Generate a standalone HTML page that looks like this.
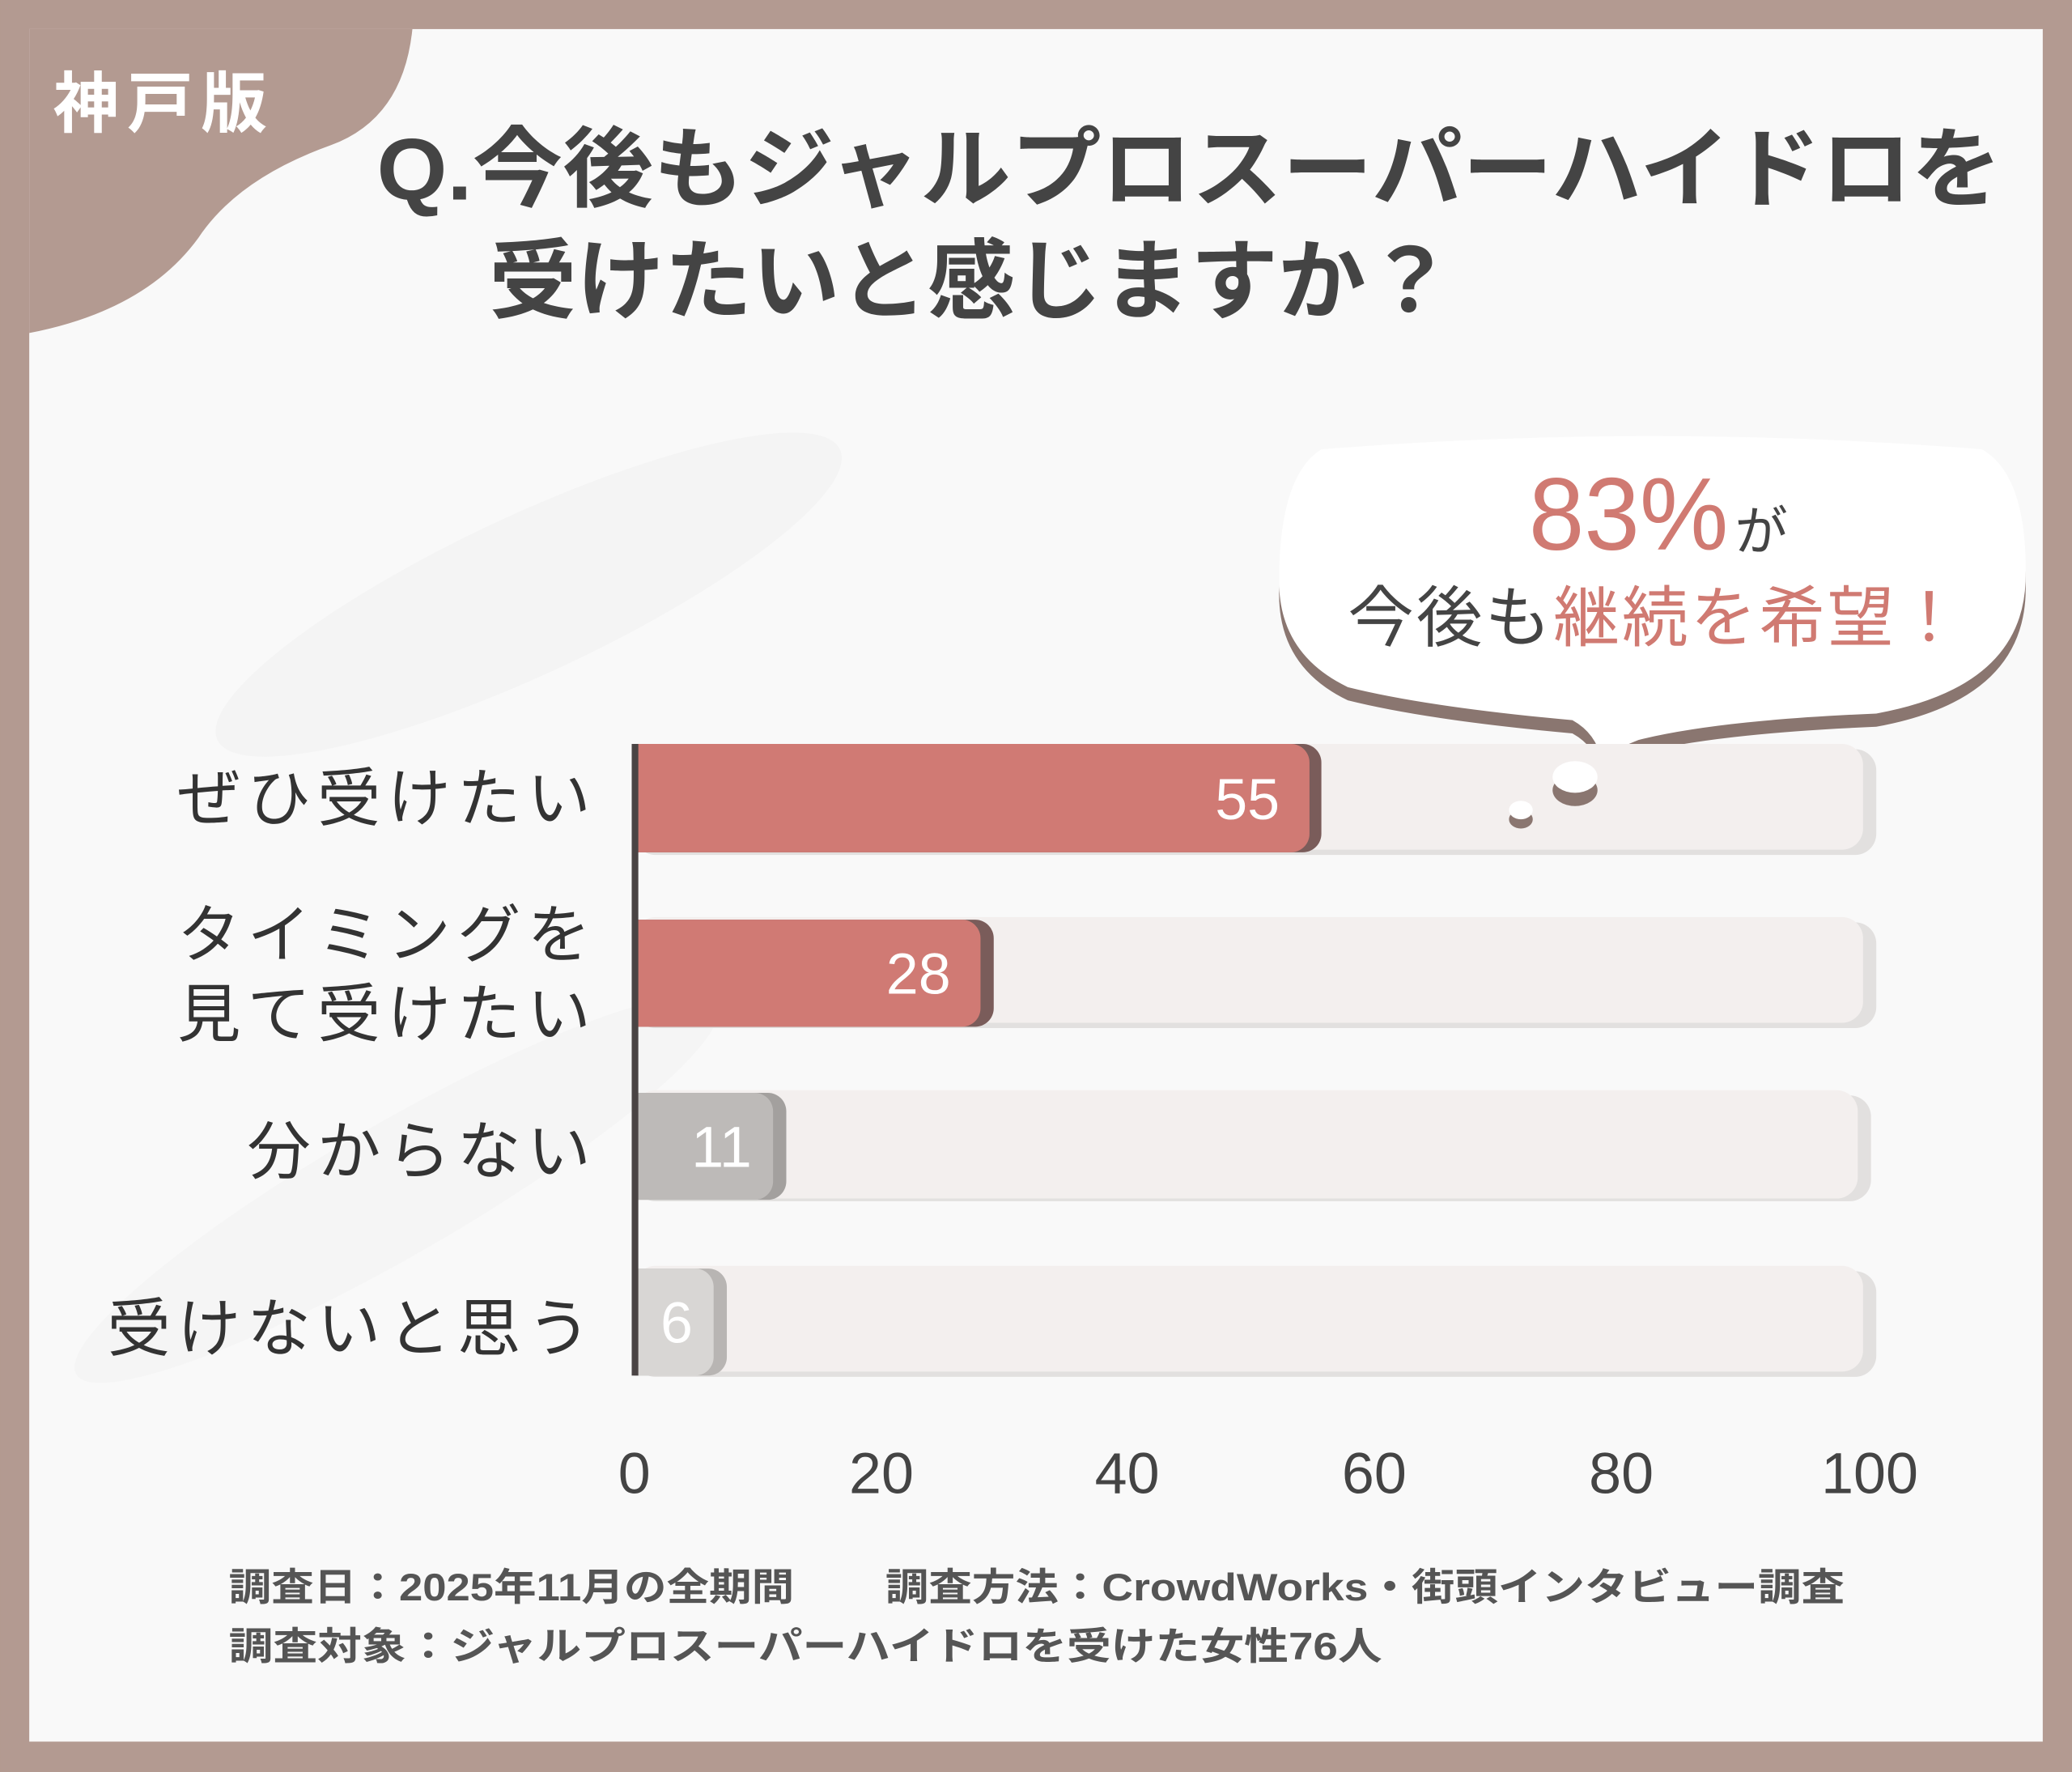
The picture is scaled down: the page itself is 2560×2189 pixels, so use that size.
<!DOCTYPE html>
<html><head><meta charset="utf-8"><style>
html,body{margin:0;padding:0;background:#b39a91;}
svg{display:block;}
text{font-family:"Liberation Sans","Noto Sans CJK JP",sans-serif;}
</style></head><body>
<svg width="2560" height="2189" viewBox="0 0 1568 1341" xmlns="http://www.w3.org/2000/svg">
<rect x="0" y="0" width="1568" height="1341" fill="#b39a91"/>
<rect x="22" y="22" width="1524" height="1296" fill="#f9f9f9"/>
<ellipse cx="400" cy="450" rx="260" ry="60" fill="#f4f4f4" transform="rotate(-25 400 450)"/>
<ellipse cx="300" cy="900" rx="280" ry="50" fill="#f5f5f5" transform="rotate(-30 300 900)"/>
<!-- corner blob -->
<path d="M22 22 L312 22 Q305 90 250 110 Q180 135 150 180 Q110 235 22 252 Z" fill="#b39a91"/>
<text x="40" y="96" font-size="50" font-weight="bold" fill="#fff" letter-spacing="6">神戸版</text>
<!-- title -->
<text x="285" y="151" font-size="66" font-weight="bold" fill="#444" textLength="1230" lengthAdjust="spacingAndGlyphs">Q.今後もジャルプロスーパーハイドロを</text>
<text x="370" y="236" font-size="66" font-weight="bold" fill="#444" textLength="730" lengthAdjust="spacingAndGlyphs">受けたいと感じますか？</text>
<!-- bubble -->
<g transform="translate(0,10)"><path d="M1000 340 Q1250 320 1500 340 Q1535 360 1533 440 Q1530 520 1420 540 Q1300 545 1240 560 Q1215 570 1212 575 Q1208 555 1190 545 Q1080 535 1020 520 Q968 495 968 440 Q968 360 1000 340 Z" fill="#8a7670"/></g>
<path d="M1000 340 Q1250 320 1500 340 Q1535 360 1533 440 Q1530 520 1420 540 Q1300 545 1240 560 Q1215 570 1212 575 Q1208 555 1190 545 Q1080 535 1020 520 Q968 495 968 440 Q968 360 1000 340 Z" fill="#fff"/>
<text x="1157" y="416" font-size="78" fill="#d07a72" textLength="151" lengthAdjust="spacingAndGlyphs">83%</text>
<text x="1313" y="416" font-size="40" fill="#444">が</text>
<text x="1020" y="485" font-size="50" fill="#444" textLength="465" lengthAdjust="spacing">今後も<tspan fill="#d07a72">継続を希望！</tspan></text>
<!-- tracks -->
<g fill="#e2e0df">
<rect x="480" y="567" width="940" height="80" rx="16"/>
<rect x="480" y="698" width="940" height="80" rx="16"/>
<rect x="480" y="829" width="936" height="80" rx="16"/>
<rect x="480" y="962" width="940" height="80" rx="16"/>
</g>
<g fill="#f3efee">
<rect x="480" y="563" width="930" height="80" rx="16"/>
<rect x="480" y="694" width="930" height="80" rx="16"/>
<rect x="480" y="825" width="926" height="82" rx="16"/>
<rect x="480" y="958" width="930" height="80" rx="16"/>
</g>
<!-- small bubbles -->
<ellipse cx="1192" cy="598" rx="17" ry="12" fill="#8a7670"/>
<ellipse cx="1192" cy="588" rx="17" ry="12" fill="#fff"/>
<ellipse cx="1151" cy="620" rx="9" ry="7" fill="#8a7670"/>
<ellipse cx="1151" cy="613" rx="9" ry="7" fill="#fff"/>
<!-- bars -->
<clipPath id="c"><rect x="480" y="0" width="1200" height="1341"/></clipPath>
<g clip-path="url(#c)">
<rect x="460" y="563" width="540" height="82" rx="14" fill="#7a5c5a"/>
<rect x="460" y="563" width="531" height="82" rx="14" fill="#d07a74"/>
<rect x="460" y="696" width="292" height="81" rx="14" fill="#7a5c5a"/>
<rect x="460" y="696" width="282" height="81" rx="14" fill="#d07a74"/>
<rect x="460" y="827" width="135" height="81" rx="14" fill="#a3a09e"/>
<rect x="460" y="827" width="125" height="81" rx="14" fill="#bdbab8"/>
<rect x="460" y="960" width="90" height="81" rx="14" fill="#b8b5b3"/>
<rect x="460" y="960" width="80" height="81" rx="14" fill="#d8d6d4"/>
</g>
<rect x="478" y="563" width="5" height="478" fill="#4a4444"/>
<g fill="#fff" font-size="44" text-anchor="middle">
<text x="944" y="620">55</text>
<text x="695" y="752">28</text>
<text x="546" y="883">11</text>
<text x="512" y="1016">6</text>
</g>
<!-- category labels -->
<g fill="#333" font-size="48" text-anchor="end" letter-spacing="5">
<text x="452" y="621">ぜひ受けたい</text>
<text x="452" y="724">タイミングを</text>
<text x="452" y="784">見て受けたい</text>
<text x="452" y="888">分からない</text>
<text x="452" y="1022">受けないと思う</text>
</g>
<!-- ticks -->
<g fill="#444" font-size="44" text-anchor="middle">
<text x="480" y="1130">0</text>
<text x="667" y="1130">20</text>
<text x="853" y="1130">40</text>
<text x="1040" y="1130">60</text>
<text x="1227" y="1130">80</text>
<text x="1415" y="1130">100</text>
</g>
<!-- footer -->
<g fill="#555" font-size="29" font-weight="bold">
<text x="173" y="1211" textLength="428" lengthAdjust="spacingAndGlyphs">調査日：2025年11月の全期間</text>
<text x="670" y="1211" textLength="726" lengthAdjust="spacingAndGlyphs">調査方法：CrowdWorks・街頭インタビュー調査</text>
<text x="173" y="1256" textLength="873" lengthAdjust="spacingAndGlyphs">調査対象：ジャルプロスーパーハイドロを受けた女性76人</text>
</g>
</svg>
</body></html>
